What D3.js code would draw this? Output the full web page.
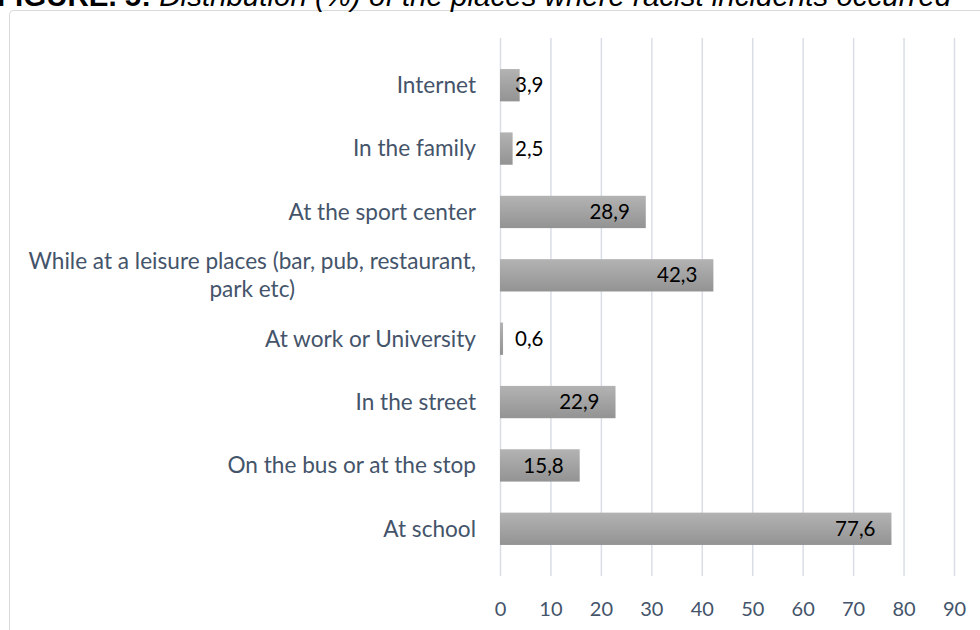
<!DOCTYPE html>
<html>
<head>
<meta charset="utf-8">
<script src="https://cdn.jsdelivr.net/npm/d3@7"></script>
<style>
  body { margin: 0; background: #fff; }
  svg { display: block; }
</style>
</head>
<body>
<svg id="chart" width="980" height="630"></svg>
<script>
// data, top to bottom as in the figure
var categories = [
  ["Internet"],
  ["In the family"],
  ["At the sport center"],
  ["While at a leisure places (bar, pub, restaurant,", "park etc)"],
  ["At work or University"],
  ["In the street"],
  ["On the bus or at the stop"],
  ["At school"]
];
var values = [3.9, 2.5, 28.9, 42.3, 0.6, 22.9, 15.8, 77.6];
var xTicks = [0, 10, 20, 30, 40, 50, 60, 70, 80, 90];
var titleBold = "FIGURE. 5:";
var titleRest = " Distribution (%) of the places where racist incidents occurred";

var svg = d3.select("#chart"),
    width = +svg.attr("width"),
    height = +svg.attr("height");

var labelColor = "#44546a";
var font = "Lato, 'Open Sans', sans-serif";

// chart frame (clipped by page edge)
svg.append("rect")
  .attr("x", 9.5).attr("y", 10.5)
  .attr("width", 1000).attr("height", 700)
  .attr("rx", 4)
  .attr("fill", "#fff")
  .attr("stroke", "#d9d9d9");

// title, cut off at the top like the source image
var title = svg.append("text")
  .attr("x", -3).attr("y", 5.5)
  .style("font-family", "'Liberation Sans', Arial, sans-serif")
  .style("font-size", "29.5px")
  .attr("fill", "#000");
title.append("tspan").style("font-weight", "bold").text(titleBold);
title.append("tspan").style("font-style", "italic").text(titleRest);

var data = values.map(function(v, i) { return { name: categories[i], value: v, i: i }; });

var x = d3.scaleLinear().domain([0, 90]).range([500, 954]);
var y = d3.scaleBand()
  .domain(d3.range(data.length))
  .range([38, 576])
  .padding(0.49);

var defs = svg.append("defs");
var grad = defs.append("linearGradient")
  .attr("id", "barGrad")
  .attr("x1", 0).attr("y1", 0).attr("x2", 0).attr("y2", 1);
grad.append("stop").attr("offset", "0%").attr("stop-color", "#b3b3b3");
grad.append("stop").attr("offset", "100%").attr("stop-color", "#939393");

// gridlines + tick labels
var xAxis = svg.append("g")
  .attr("transform", "translate(0,576)")
  .call(d3.axisBottom(x).tickValues(xTicks).tickSize(-(576 - 38)).tickPadding(26));
xAxis.select(".domain").remove();
xAxis.selectAll(".tick line").attr("stroke", "#d9dee6").attr("stroke-width", 1.5);
xAxis.selectAll(".tick text")
  .attr("fill", labelColor)
  .style("font-family", font)
  .style("font-size", "20px");

// bars
svg.selectAll(".bar")
  .data(data)
  .enter().append("rect")
  .attr("class", "bar")
  .attr("x", x(0))
  .attr("y", function(d) { return y(d.i); })
  .attr("width", function(d) { return x(d.value) - x(0); })
  .attr("height", y.bandwidth())
  .attr("fill", "url(#barGrad)");

// value labels
svg.selectAll(".val")
  .data(data)
  .enter().append("text")
  .attr("class", "val")
  .attr("x", function(d) {
    var w = x(d.value) - x(0);
    return w < 40 ? x(0) + 15 : x(d.value) - 16;
  })
  .attr("y", function(d) { return y(d.i) + y.bandwidth() / 2; })
  .attr("dy", "0.35em")
  .attr("text-anchor", function(d) { return x(d.value) - x(0) < 40 ? "start" : "end"; })
  .attr("fill", "#000")
  .style("font-family", font)
  .style("font-size", "20.5px")
  .text(function(d) { return String(d.value).replace(".", ","); });

// category labels, right aligned; wrapped lines centred in their block
var cat = svg.selectAll(".cat")
  .data(data)
  .enter().append("text")
  .attr("class", "cat")
  .attr("fill", labelColor)
  .style("font-family", font)
  .style("font-size", "22.6px");

cat.each(function(d) {
  var t = d3.select(this);
  var cy = y(d.i) + y.bandwidth() / 2;
  var lh = 28;
  var n = d.name.length;
  d.name.forEach(function(line, k) {
    t.append("tspan")
      .attr("y", cy + (k - (n - 1) / 2) * lh)
      .attr("dy", "0.35em")
      .text(line);
  });
  var maxW = 0;
  t.selectAll("tspan").each(function() {
    maxW = Math.max(maxW, this.getComputedTextLength());
  });
  var cx = 476 - maxW / 2;
  t.attr("text-anchor", "middle");
  t.selectAll("tspan").attr("x", cx);
});
</script>
</body>
</html>
